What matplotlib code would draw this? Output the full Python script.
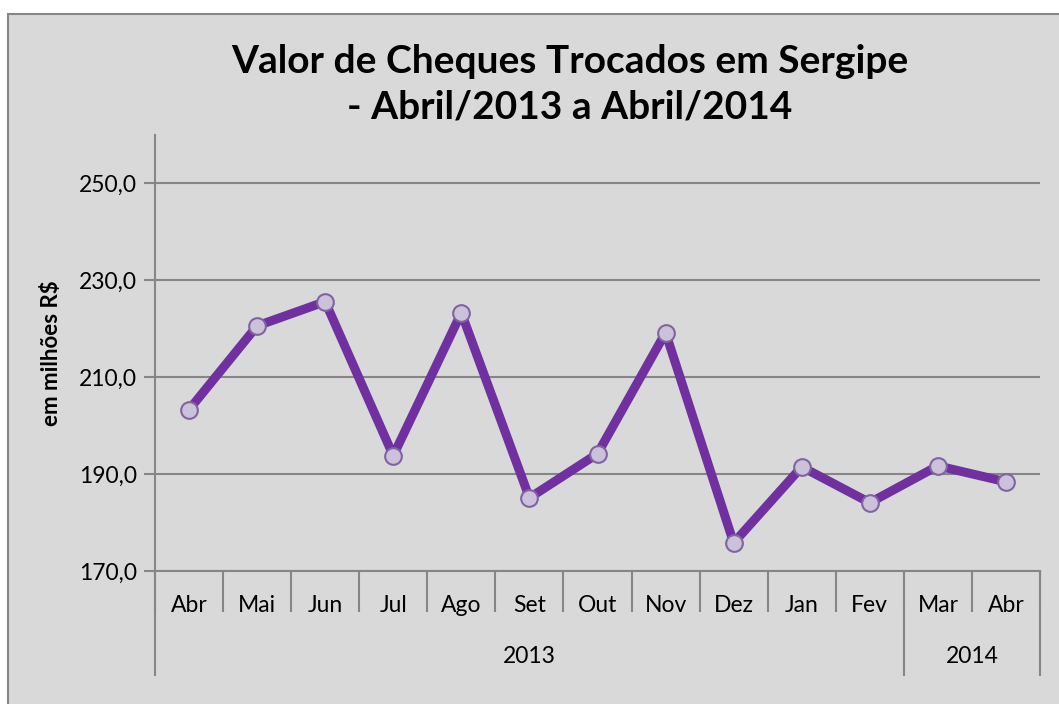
import matplotlib
matplotlib.use("Agg")
import matplotlib.pyplot as plt
from matplotlib.patches import Rectangle
from matplotlib.lines import Line2D
import numpy as np

meses = ["Abr", "Mai", "Jun", "Jul", "Ago", "Set", "Out", "Nov", "Dez",
         "Jan", "Fev", "Mar", "Abr"]
valores = [203.3, 220.6, 225.6, 193.8, 223.3, 185.1, 194.2, 219.2, 175.8,
           191.5, 184.1, 191.7, 188.4]
anos = ["2013", "2014"]
meses_por_ano = [11, 2]

W, H = 1059, 704
plt.rcParams["font.family"] = ["Lato", "DejaVu Sans"]
fig = plt.figure(figsize=(W / 100, H / 100), dpi=100)
fig.patch.set_facecolor("white")

# moldura cinza do grafico
fig.patches.append(Rectangle((8 / W, -0.1), 1.2, 1.1 - 14 / H, transform=fig.transFigure,
                             facecolor="#d9d9d9", edgecolor="#868686", lw=1.5, zorder=-10))

ax = fig.add_axes([155 / W, 1 - 571 / H, (1040 - 155) / W, (571 - 135) / H])
ax.set_facecolor("none")
ax.set_zorder(5)

x = np.arange(len(meses))
ax.plot(x, valores, color="#7030a0", lw=6.5, marker="o", markersize=12,
        markerfacecolor="#ccc1da", markeredgecolor="#8064a2", markeredgewidth=1.5,
        solid_capstyle="round", zorder=3)

ax.set_xlim(-0.5, len(meses) - 0.5)
ax.set_ylim(170, 260)
ax.set_yticks(np.arange(170, 251, 20))
ax.set_yticklabels([f"{v:.1f}".replace(".", ",") for v in np.arange(170, 251, 20)],
                   fontsize=16.5)
ax.yaxis.grid(True, color="#868686", lw=1.5)
ax.set_axisbelow(True)
ax.tick_params(axis="y", length=8, width=1.5, color="#868686", pad=5)

for s in ["top", "right"]:
    ax.spines[s].set_visible(False)
ax.spines["left"].set_color("#868686")
ax.spines["left"].set_linewidth(1.5)
ax.spines["bottom"].set_color("#868686")
ax.spines["bottom"].set_linewidth(1.5)

# rotulos de meses e separadores
ax.set_xticks(x)
ax.set_xticklabels(meses, fontsize=16.5)
ax.tick_params(axis="x", length=0, pad=17)
ax.set_xticks(np.arange(len(meses) + 1) - 0.5, minor=True)
ax.tick_params(axis="x", which="minor", length=29.5, width=1.5, color="#868686")

trans = ax.get_xaxis_transform()
ax.add_line(Line2D([-0.5, -0.5], [0, -0.2385], transform=trans, color="#868686",
                   lw=1.5, clip_on=False))
inicio = -0.5
for ano, n in zip(anos, meses_por_ano):
    fim = inicio + n
    ax.add_line(Line2D([fim, fim], [0, -0.2385], transform=trans, color="#868686",
                       lw=1.5, clip_on=False))
    ax.text((inicio + fim) / 2, -0.197, ano, transform=trans, ha="center",
            va="center", fontsize=16.5)
    inicio = fim

ax.set_ylabel("em milhões R$", fontsize=16, fontweight="bold", labelpad=12)

fig.text(570 / W, 1 - 84 / H, "Valor de Cheques Trocados em Sergipe\n- Abril/2013 a Abril/2014",
         ha="center", va="center", fontsize=28, fontweight="bold", linespacing=1.35)

fig.savefig("out.png", dpi=100)
